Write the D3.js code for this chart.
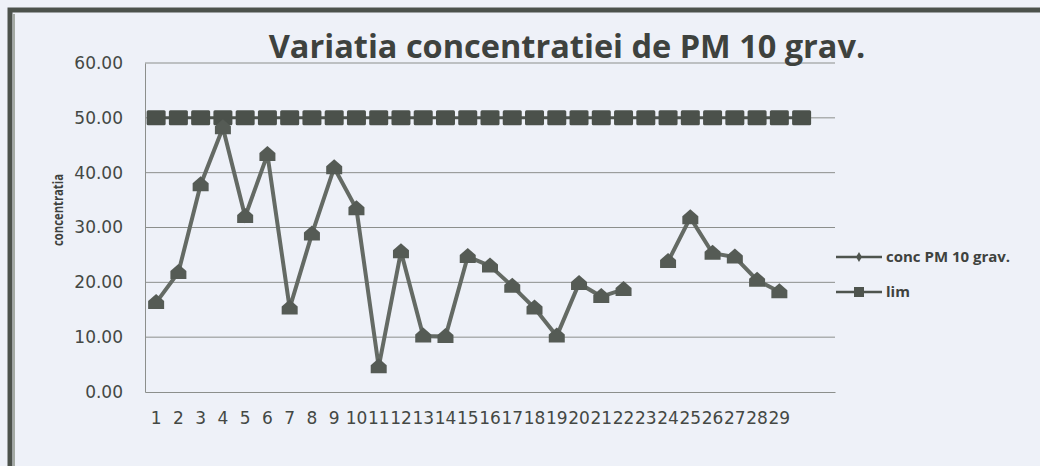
<!DOCTYPE html>
<html>
<head>
<meta charset="utf-8">
<script src="https://cdn.jsdelivr.net/npm/d3@7"></script>
<style>
  body { margin: 0; background: #eef1f8; }
  svg { display: block; }
</style>
</head>
<body>
<div id="chart"></div>
<script>
// categories (31 days, only 1..29 carry a label)
var dayLabels = ["1","2","3","4","5","6","7","8","9","10","11","12","13","14","15",
  "16","17","18","19","20","21","22","23","24","25","26","27","28","29","",""];
// conc PM 10 grav. (null = no measurement)
var concValues = [16.3, 21.8, 37.8, 48.2, 32.0, 43.3, 15.3, 28.8, 40.9, 33.4,
  4.6, 25.6, 10.2, 10.1, 24.7, 23.0, 19.3, 15.3, 10.2, 19.8,
  17.4, 18.7, null, 23.8, 31.8, 25.3, 24.6, 20.4, 18.3, null, null];
// lim
var limValues = [50, 50, 50, 50, 50, 50, 50, 50, 50, 50, 50, 50, 50, 50, 50,
  50, 50, 50, 50, 50, 50, 50, 50, 50, 50, 50, 50, 50, 50, 50, null];
var yTicks = [0, 10, 20, 30, 40, 50, 60];

var width = 1040;
var height = 466;
var plot = { left: 145, right: 835, top: 63, bottom: 392 };

var svg = d3.select("#chart")
  .append("svg")
  .attr("width", width)
  .attr("height", height);

// outer frame
svg.append("rect")
  .attr("x", 10).attr("y", 10)
  .attr("width", width + 20).attr("height", height + 20)
  .attr("fill", "#eef1f8")
  .attr("stroke", "#4c524c")
  .attr("stroke-width", 5);
svg.append("line")
  .attr("x1", 14).attr("x2", 14).attr("y1", 14).attr("y2", height)
  .attr("stroke", "#a4aaa4").attr("stroke-width", 2);

var x = d3.scaleBand()
  .domain(d3.range(dayLabels.length))
  .range([plot.left, plot.right]);

var y = d3.scaleLinear()
  .domain([0, 60])
  .range([plot.bottom, plot.top]);

function cx(i) { return x(i) + x.bandwidth() / 2; }

// gridlines
svg.append("g")
  .selectAll("line")
  .data(yTicks.filter(function(d) { return d > 0; }))
  .enter()
  .append("line")
  .attr("x1", plot.left).attr("x2", plot.right)
  .attr("y1", function(d) { return y(d); })
  .attr("y2", function(d) { return y(d); })
  .attr("stroke", "#8c8f8c")
  .attr("stroke-width", 1);

var yAxis = d3.axisLeft(y)
  .tickValues(yTicks)
  .tickFormat(d3.format(".2f"))
  .tickSize(0)
  .tickPadding(22);
var gy = svg.append("g")
  .attr("transform", "translate(" + plot.left + ",0)")
  .call(yAxis);
gy.select(".domain").attr("stroke", "#8c8f8c");
gy.selectAll("text")
  .style("font-family", "'DejaVu Sans', sans-serif")
  .style("font-size", "17px")
  .style("fill", "#444844");

var xAxis = d3.axisBottom(x)
  .tickFormat(function(i) { return dayLabels[i]; })
  .tickSize(0)
  .tickPadding(20);
var gx = svg.append("g")
  .attr("transform", "translate(0," + plot.bottom + ")")
  .call(xAxis);
gx.select(".domain").attr("stroke", "#8c8f8c");
gx.selectAll("text")
  .style("font-family", "'DejaVu Sans', sans-serif")
  .style("font-size", "17px")
  .style("fill", "#444844");

// lim series
var limLine = d3.line()
  .defined(function(d) { return d != null; })
  .x(function(d, i) { return cx(i); })
  .y(function(d) { return y(d); });
svg.append("path")
  .datum(limValues)
  .attr("fill", "none")
  .attr("stroke", "#4e544e")
  .attr("stroke-width", 3)
  .attr("d", limLine);
svg.append("g")
  .selectAll("rect")
  .data(limValues.map(function(v, i) { return { v: v, i: i }; })
    .filter(function(d) { return d.v != null; }))
  .enter()
  .append("rect")
  .attr("x", function(d) { return cx(d.i) - 9.5; })
  .attr("y", function(d) { return y(d.v) - 7.5; })
  .attr("width", 19)
  .attr("height", 15)
  .attr("rx", 1.5)
  .attr("fill", "#4b514b");

// conc series
var concLine = d3.line()
  .defined(function(d) { return d != null; })
  .x(function(d, i) { return cx(i); })
  .y(function(d) { return y(d); });
svg.append("path")
  .datum(concValues)
  .attr("fill", "none")
  .attr("stroke", "#646a64")
  .attr("stroke-width", 4)
  .attr("d", concLine);
var house = "M0,-8.5L8,-1.5L8,6.5L-8,6.5L-8,-1.5Z";
svg.append("g")
  .selectAll("path")
  .data(concValues.map(function(v, i) { return { v: v, i: i }; })
    .filter(function(d) { return d.v != null; }))
  .enter()
  .append("path")
  .attr("transform", function(d) { return "translate(" + cx(d.i) + "," + y(d.v) + ")"; })
  .attr("d", house)
  .attr("fill", "#555b55");

// title
svg.append("text")
  .attr("x", 567)
  .attr("y", 58)
  .attr("text-anchor", "middle")
  .style("font-family", "'Open Sans', sans-serif")
  .style("font-weight", "bold")
  .style("font-size", "32.5px")
  .style("fill", "#3e423e")
  .text("Variatia concentratiei de PM 10 grav.");

// y axis title
svg.append("text")
  .attr("transform", "translate(63,210) rotate(-90)")
  .attr("text-anchor", "middle")
  .attr("textLength", 72)
  .attr("lengthAdjust", "spacingAndGlyphs")
  .style("font-family", "'Open Sans', sans-serif")
  .style("font-weight", "bold")
  .style("font-size", "15px")
  .style("fill", "#3e423e")
  .text("concentratia");

// legend
var legend = svg.append("g").attr("transform", "translate(836,0)");
legend.append("line")
  .attr("x1", 0).attr("x2", 46).attr("y1", 257).attr("y2", 257)
  .attr("stroke", "#4e544e").attr("stroke-width", 2.5);
legend.append("path")
  .attr("transform", "translate(23,257)")
  .attr("d", d3.symbol(d3.symbolDiamond, 30))
  .attr("fill", "#4e544e");
legend.append("text")
  .attr("x", 50).attr("y", 262)
  .style("font-family", "'Open Sans', sans-serif")
  .style("font-weight", "bold")
  .style("font-size", "15px")
  .style("fill", "#3e423e")
  .text("conc PM 10 grav.");
legend.append("line")
  .attr("x1", 0).attr("x2", 46).attr("y1", 292).attr("y2", 292)
  .attr("stroke", "#4e544e").attr("stroke-width", 2.5);
legend.append("rect")
  .attr("x", 18).attr("y", 287).attr("width", 10).attr("height", 10)
  .attr("fill", "#4e544e");
legend.append("text")
  .attr("x", 50).attr("y", 297)
  .style("font-family", "'Open Sans', sans-serif")
  .style("font-weight", "bold")
  .style("font-size", "15px")
  .style("fill", "#3e423e")
  .text("lim");
</script>
</body>
</html>
